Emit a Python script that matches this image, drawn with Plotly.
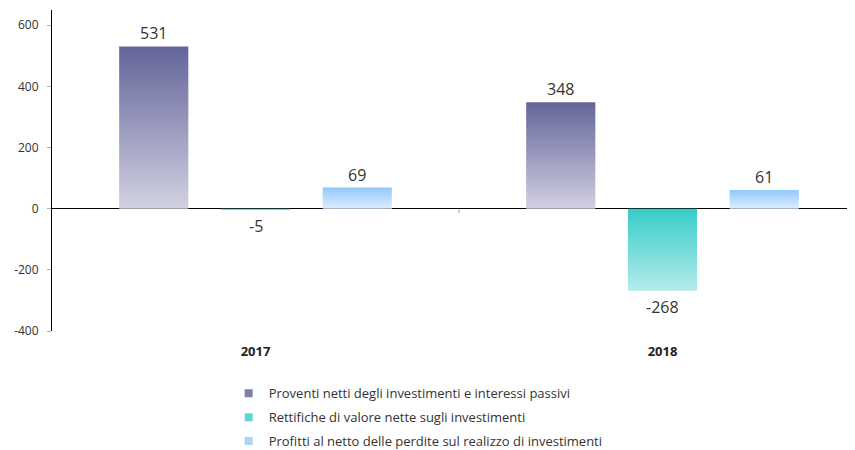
import plotly.graph_objects as go

categories = ["2017", "2018"]
series_names = [
    "Proventi netti degli investimenti e interessi passivi",
    "Rettifiche di valore nette sugli investimenti",
    "Profitti al netto delle perdite sul realizzo di investimenti",
]
values = {
    series_names[0]: [531, 348],
    series_names[1]: [-5, -268],
    series_names[2]: [69, 61],
}
y_ticks = [-400, -200, 0, 200, 400, 600]
y_tick_text = ["-400", "-200", "0", "200", "400", "600"]

# gradient (light bottom -> dark top) per series
grads = [
    ("#d2d1e2", "#63649a"),
    ("#b3ecea", "#38ccc8"),
    ("#ddeeff", "#92c8fb"),
]
legend_colors = ["#7e7fac", "#5fd6d2", "#a9d4fc"]

FONT = "'Open Sans', 'DejaVu Sans', sans-serif"
offset = 0.25
half = 0.085

fig = go.Figure()
for j, name in enumerate(series_names):
    vals = values[name]
    for i, v in enumerate(vals):
        c = i + (j - 1) * offset
        lo, hi = min(0, v), max(0, v)
        fig.add_trace(go.Scatter(
            x=[c - half, c - half, c + half, c + half, c - half],
            y=[0, v, v, 0, 0],
            mode="lines", line=dict(width=0), fill="toself",
            fillgradient=dict(type="vertical", start=lo, stop=hi,
                              colorscale=[[0, grads[j][0]], [1, grads[j][1]]]),
            showlegend=False, hoverinfo="skip",
        ))
        fig.add_annotation(
            x=c, y=v, text=str(v), showarrow=False,
            yanchor="bottom" if v >= 0 else "top",
            yshift=0 if v >= 0 else -3,
            font=dict(size=16, color="#333333", family=FONT),
        )
    # legend entry
    fig.add_trace(go.Scatter(
        x=[None], y=[None], mode="markers", name=name, legendgroup=name,
        marker=dict(symbol="square", size=8, color=legend_colors[j]),
    ))

fig.add_shape(type="line", xref="x", yref="y", x0=0.5, x1=0.5, y0=0, y1=-15,
              line=dict(color="#aaaaaa", width=1))

fig.update_layout(
    width=847, height=442,
    margin=dict(l=44, r=0, t=2, b=119, autoexpand=False),
    paper_bgcolor="white", plot_bgcolor="white",
    font=dict(family=FONT, color="#333333", size=12),
    xaxis=dict(range=[-0.5, 1.473], tickvals=[0, 1],
               ticktext=["<b>" + c + "</b>" for c in categories],
               showgrid=False, zeroline=False, showline=False, ticks="",
               ticklabelstandoff=11, automargin=False,
               tickfont=dict(size=13, color="#222222")),
    yaxis=dict(range=[-400, 650], tickvals=y_ticks, ticktext=y_tick_text,
               showgrid=False, automargin=False,
               zeroline=True, zerolinecolor="#000000", zerolinewidth=1,
               showline=True, linecolor="#000000", linewidth=1,
               ticks="outside", ticklen=4, tickcolor="#aaaaaa",
               ticklabelstandoff=6,
               tickfont=dict(size=12, color="#333333")),
    legend=dict(x=0.22, y=-0.1475, xanchor="left", yanchor="top",
                font=dict(size=13, color="#333333", family=FONT),
                tracegroupgap=4, itemwidth=30, bgcolor="rgba(0,0,0,0)"),
    showlegend=True,
)

fig.write_html("out.html")
